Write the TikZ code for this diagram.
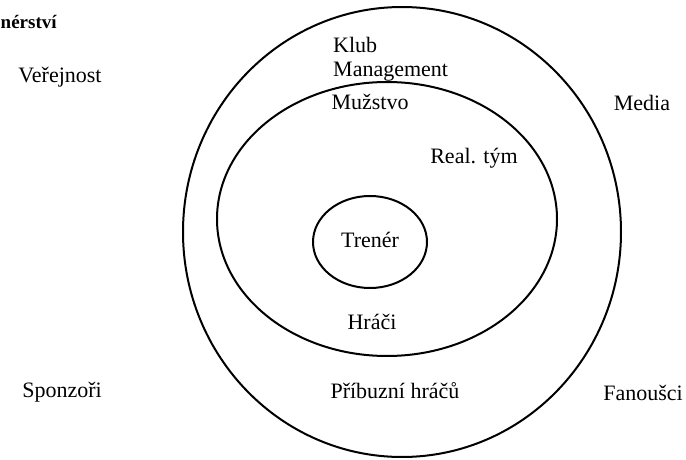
\documentclass[tikz,border=0pt]{standalone}
\usepackage{fontspec}
\setmainfont{Liberation Serif}
\begin{document}
\begin{tikzpicture}[x=1pt,y=-1pt,
  ring/.style={draw=black,line width=2pt},
  lbl/.style={font=\fontsize{22}{24}\selectfont,inner sep=0pt},
  ttl/.style={font=\bfseries\fontsize{19}{21}\selectfont,inner sep=0pt}]
\useasboundingbox (0,0) rectangle (686,460);
\draw[ring] (402,232) ellipse [x radius=219, y radius=225];
\draw[ring] (387,219) ellipse [x radius=170, y radius=137];
\draw[ring] (370,242) ellipse [x radius=57, y radius=46];
\node[ttl,anchor=west] (t) at (0.5,22) {nérství};
\node[lbl] (ver) at (60,77) {Veřejnost};
\node[lbl,anchor=west] (klub) at (333,45) {Klub};
\node[lbl,anchor=west] (man) at (333,72) {Management};
\node[lbl] (med) at (642,103) {Media};
\node[lbl] (muz) at (370,102) {Mužstvo};
\node[lbl] (real) at (474,158) {Real. tým};
\node[lbl] (tren) at (370,240) {Trenér};
\node[lbl] (hr) at (372,322) {Hráči};
\node[lbl] (spo) at (62,392) {Sponzoři};
\node[lbl] (pri) at (395,391) {Příbuzní hráčů};
\node[lbl] (fan) at (643,393) {Fanoušci};
\end{tikzpicture}
\end{document}
